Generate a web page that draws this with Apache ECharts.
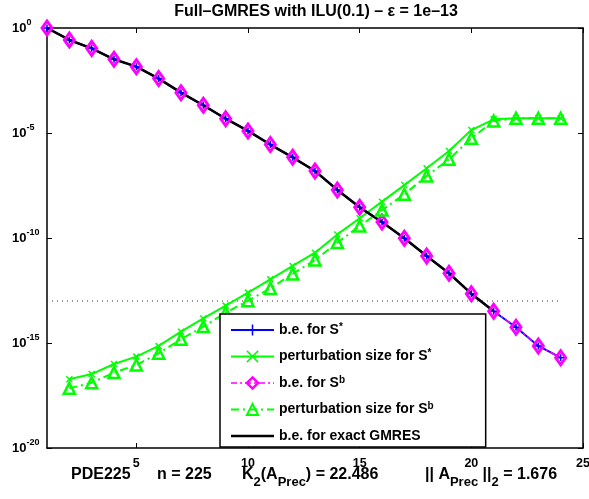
<!DOCTYPE html>
<html><head><meta charset="utf-8">
<script src="https://cdn.jsdelivr.net/npm/echarts@6/dist/echarts.min.js"></script>
<style>html,body{margin:0;padding:0;background:#fff}#c{width:589px;height:499px}</style>
</head><body><div id="c"></div>
<script>
// ---- data (values are log10 of the plotted quantities) ----
const iterations = [1,2,3,4,5,6,7,8,9,10,11,12,13,14,15,16,17,18,19,20,21,22,23,24];
const beSstarLog10 = [0,-0.57,-0.97,-1.49,-1.84,-2.41,-3.08,-3.68,-4.32,-4.90,-5.55,-6.16,-6.81,-7.71,-8.54,-9.24,-10.01,-10.86,-11.68,-12.65,-13.49,-14.25,-15.14,-15.70];
const beSbLog10 =     [0,-0.57,-0.97,-1.49,-1.84,-2.41,-3.08,-3.68,-4.32,-4.90,-5.55,-6.16,-6.81,-7.71,-8.54,-9.24,-10.01,-10.86,-11.68,-12.65,-13.49,-14.25,-15.14,-15.70];
const exactIterations = [1,2,3,4,5,6,7,8,9,10,11,12,13,14,15,16,17,18,19,20,21];
const beExactLog10 =  [0,-0.57,-0.97,-1.49,-1.84,-2.41,-3.08,-3.68,-4.32,-4.90,-5.55,-6.16,-6.81,-7.71,-8.54,-9.24,-10.01,-10.86,-11.68,-12.65,-13.49];
const pertIterations = [2,3,4,5,6,7,8,9,10,11,12,13,14,15,16,17,18,19,20,21,22,23,24];
const pertSstarLog10 = [-16.73,-16.48,-16.00,-15.65,-15.14,-14.46,-13.83,-13.22,-12.60,-11.97,-11.33,-10.70,-9.83,-9.06,-8.27,-7.48,-6.68,-5.86,-4.86,-4.35,-4.30,-4.30,-4.30];
const pertSbLog10 =    [-17.16,-16.89,-16.41,-16.05,-15.49,-14.82,-14.22,-13.56,-12.99,-12.40,-11.71,-11.05,-10.22,-9.43,-8.67,-7.92,-7.05,-6.25,-5.25,-4.43,-4.30,-4.30,-4.30];
const epsLog10 = -13;
const epsRange = [1, 24];
const xTicks = [5,10,15,20,25];
const seriesNames = ['b.e. for S*','perturbation size for S*','b.e. for S^b','perturbation size for S^b','b.e. for exact GMRES'];
const legendLabels = ['b.e. for S{sup|*}','perturbation size for S{sup|*}','b.e. for S{sup|b}','perturbation size for S{sup|b}','b.e. for exact GMRES'];
const titleText = 'Full\u2013GMRES with ILU(0.1) \u2013 \u03b5 = 1e\u201313';

// ---- chart ----
const FONT = '"Liberation Sans", Arial, Helvetica, sans-serif';
const pairs = (xs, ys) => xs.map((x, i) => [x, ys[i]]);
const PLUS = 'path://M5,0L5,10M0,5L10,5';
const CROSS = 'path://M0,0L10,10M10,0L0,10';
const BLUE = '#0000ff', GREEN = '#00ff00', MAG = '#ff00ff', BLACK = '#000000';

const chart = echarts.init(document.getElementById('c'), null, {renderer: 'canvas'});
const axisCommon = {
  axisLine: {show: true, onZero: false, lineStyle: {color: BLACK, width: 1.5}},
  axisTick: {show: true, inside: true, length: 5, lineStyle: {color: BLACK, width: 1}},
  splitLine: {show: false}
};
const subRich = {
  b: {fontSize: 16, fontWeight: 'bold', fontFamily: FONT, fill: BLACK, lineHeight: 28},
  s: {fontSize: 13, fontWeight: 'bold', fontFamily: FONT, fill: BLACK, lineHeight: 13, verticalAlign: 'bottom'}
};
const option = {
  animation: false,
  backgroundColor: '#fff',
  grid: {left: 47, right: 6, top: 28, bottom: 51, outerBoundsMode: 'none', containLabel: false},
  xAxis: [
    Object.assign({type: 'value', position: 'bottom', min: 1, max: 25,
      axisLabel: {show: true, customValues: xTicks, margin: 9, color: BLACK, fontSize: 12.5, fontWeight: 'bold', fontFamily: FONT}},
      axisCommon, {axisTick: Object.assign({}, axisCommon.axisTick, {customValues: xTicks})}),
    Object.assign({type: 'value', position: 'top', min: 1, max: 25, axisLabel: {show: false}},
      axisCommon, {axisTick: Object.assign({}, axisCommon.axisTick, {customValues: xTicks})})
  ],
  yAxis: [
    Object.assign({type: 'value', position: 'left', min: -20, max: 0, interval: 5,
      axisLabel: {show: true, align: 'left', margin: 35,
        formatter: v => '{b|10}{s|' + (v === 0 ? '0' : String(v)) + '}',
        rich: {
          b: {fontSize: 13, fontWeight: 'bold', fontFamily: FONT, color: BLACK, lineHeight: 20},
          s: {fontSize: 9, fontWeight: 'bold', fontFamily: FONT, color: BLACK, lineHeight: 8, verticalAlign: 'top'}
        }}}, axisCommon),
    Object.assign({type: 'value', position: 'right', min: -20, max: 0, interval: 5, axisLabel: {show: false}}, axisCommon)
  ],
  legend: {
    show: true, orient: 'vertical', left: 220, top: 314,
    padding: [8, 52, 3, 10], itemGap: 10.5, itemWidth: 43, itemHeight: 14,
    backgroundColor: '#fff', borderColor: BLACK, borderWidth: 1.5, borderRadius: 0,
    selectedMode: false,
    formatter: name => legendLabels[seriesNames.indexOf(name)],
    textStyle: {fontSize: 14, fontWeight: 'bold', fontFamily: FONT, color: BLACK, lineHeight: 16,
      rich: {sup: {fontSize: 10, fontWeight: 'bold', fontFamily: FONT, color: BLACK, lineHeight: 8, verticalAlign: 'top'}}},
    data: [
      {name: seriesNames[0], itemStyle: {color: 'transparent', borderColor: BLUE, borderWidth: 1.5}, lineStyle: {color: BLUE, width: 2, type: 'solid'}},
      {name: seriesNames[1], itemStyle: {color: 'transparent', borderColor: GREEN, borderWidth: 1.5}, lineStyle: {color: GREEN, width: 2, type: 'solid'}},
      {name: seriesNames[2], itemStyle: {color: 'transparent', borderColor: MAG, borderWidth: 2.5}, lineStyle: {color: MAG, width: 1.5, type: [6,3,2,3]}},
      {name: seriesNames[3], itemStyle: {color: 'transparent', borderColor: GREEN, borderWidth: 2}, lineStyle: {color: GREEN, width: 2, type: [8,4,2,4]}},
      {name: seriesNames[4], icon: 'path://M0,0L0.01,0L0.01,0.01Z M0,5.75L43,5.75L43,8.25L0,8.25Z M0,14L0.01,14L0.01,14.01Z', itemStyle: {color: BLACK}}
    ]
  },
  graphic: [
    {type: 'text', x: 316, y: 12, silent: true,
      style: {text: titleText, align: 'center', verticalAlign: 'middle', fill: BLACK, font: 'bold 16px ' + FONT}},
    {type: 'text', x: 71, y: 475, silent: true,
      style: {text: 'PDE225', align: 'left', verticalAlign: 'middle', fill: BLACK, font: 'bold 16px ' + FONT}},
    {type: 'text', x: 157, y: 475, silent: true,
      style: {text: 'n = 225', align: 'left', verticalAlign: 'middle', fill: BLACK, font: 'bold 16px ' + FONT}},
    {type: 'text', x: 242, y: 475, silent: true,
      style: {text: '{b|K}{s|2}{b|(A}{s|Prec}{b|) = 22.486}', align: 'left', verticalAlign: 'middle', rich: subRich}},
    {type: 'text', x: 425, y: 475, silent: true,
      style: {text: '{b||| A}{s|Prec}{b| ||}{s|2}{b| = 1.676}', align: 'left', verticalAlign: 'middle', rich: subRich}}
  ],
  series: [
    {name: 'eps', type: 'line', data: [[epsRange[0], epsLog10], [epsRange[1], epsLog10]], showSymbol: false, symbol: 'none',
      lineStyle: {color: '#333', width: 1, type: [1, 4]}, silent: true, z: 1},
    {name: seriesNames[0], type: 'line', data: pairs(iterations, beSstarLog10), symbol: PLUS, symbolSize: 7, showSymbol: true,
      lineStyle: {color: BLUE, width: 2}, itemStyle: {color: 'transparent', borderColor: BLUE, borderWidth: 1.5}, z: 2},
    {name: seriesNames[1], type: 'line', data: pairs(pertIterations, pertSstarLog10), symbol: CROSS, symbolSize: 6, showSymbol: true,
      lineStyle: {color: GREEN, width: 2}, itemStyle: {color: 'transparent', borderColor: GREEN, borderWidth: 1.5}, z: 2},
    {name: seriesNames[2], type: 'line', data: pairs(iterations, beSbLog10), symbol: 'diamond', symbolSize: [10, 14], showSymbol: true,
      lineStyle: {color: MAG, width: 1.5, type: [6,3,2,3]}, itemStyle: {color: 'transparent', borderColor: MAG, borderWidth: 3}, z: 2},
    {name: seriesNames[3], type: 'line', data: pairs(pertIterations, pertSbLog10), symbol: 'triangle', symbolSize: 11, showSymbol: true,
      lineStyle: {color: GREEN, width: 2, type: [8,4,2,4]}, itemStyle: {color: 'transparent', borderColor: GREEN, borderWidth: 2.5}, z: 2},
    {name: seriesNames[4], type: 'line', data: pairs(exactIterations, beExactLog10), symbol: 'none', showSymbol: false,
      lineStyle: {color: BLACK, width: 2.5}, itemStyle: {color: BLACK}, z: 2}
  ]
};
chart.setOption(option);
</script>
</body></html>
